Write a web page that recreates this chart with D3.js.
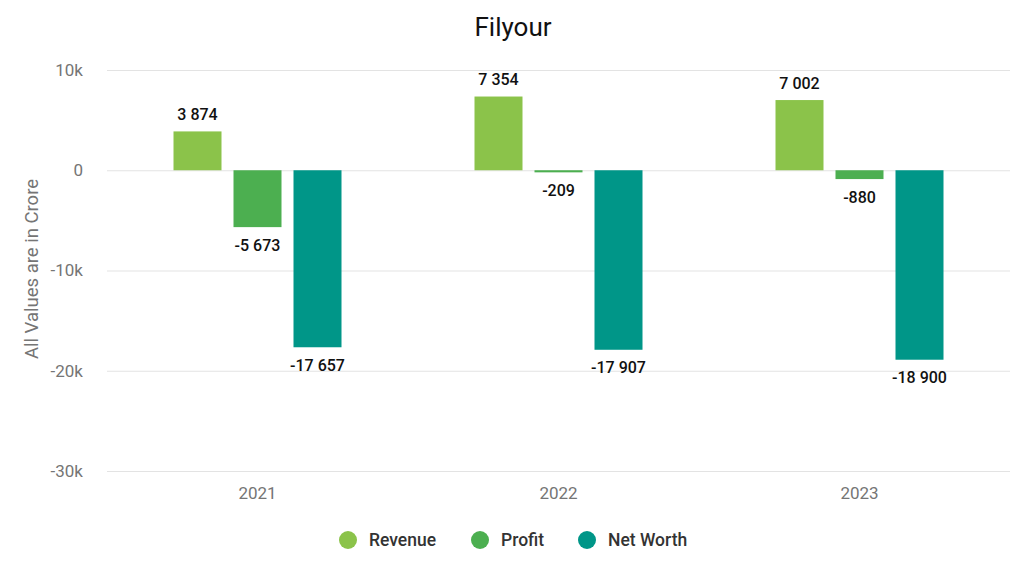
<!DOCTYPE html>
<html><head><meta charset="utf-8">
<script src="https://cdn.jsdelivr.net/npm/d3@7"></script>
<style>body{margin:0;background:#fff;font-family:Roboto,"Noto Sans",sans-serif;}</style>
</head><body>
<svg id="c" width="1024" height="582"></svg>
<script>
const categories = ["2021", "2022", "2023"];
const seriesNames = ["Revenue", "Profit", "Net Worth"];
const revenue = [3874, 7354, 7002];
const profit = [-5673, -209, -880];
const netWorth = [-17657, -17907, -18900];
const yTicks = [10000, 0, -10000, -20000, -30000];
const yTickLabels = ["10k", "0", "-10k", "-20k", "-30k"];
const colors = ["#8bc34a", "#4caf50", "#009688"];

const seriesValues = [revenue, profit, netWorth];
const svg = d3.select("#c");
const x = d3.scaleBand().domain(categories).range([107, 1010]).paddingInner(0).paddingOuter(0);
const y = d3.scaleLinear().domain([-30000, 10000]).range([471, 70]);
const barW = 48, gap = 12;
const xs = d3.scaleBand().domain(seriesNames).range([0, barW*3 + gap*2]).paddingInner(gap/(barW+gap)).paddingOuter(0);
const groupW = barW*3 + gap*2;

// grid
svg.append("g").selectAll("line").data(yTicks).join("line")
  .attr("x1", 107).attr("x2", 1010)
  .attr("y1", d => y(d)+0.5).attr("y2", d => y(d)+0.5)
  .attr("stroke", "#e3e3e3").attr("stroke-width", 1);

// y tick labels
svg.append("g").selectAll("text").data(yTicks).join("text")
  .attr("x", 83).attr("y", d => y(d)).attr("dy", "0.35em")
  .attr("text-anchor", "end").attr("fill", "#757575").attr("font-size", 17)
  .text((d, i) => yTickLabels[i]);

// y axis title
svg.append("text").attr("transform", "translate(32,269) rotate(-90)")
  .attr("text-anchor", "middle").attr("dy", "0.35em").attr("fill", "#757575").attr("font-size", 18.5)
  .text("All Values are in Crore");

// x labels
svg.append("g").selectAll("text").data(categories).join("text")
  .attr("x", d => x(d) + x.bandwidth()/2).attr("y", 493).attr("dy", "0.35em")
  .attr("text-anchor", "middle").attr("fill", "#757575").attr("font-size", 17)
  .text(d => d);

// title
svg.append("text").attr("x", 513).attr("y", 27).attr("dy", "0.35em")
  .attr("text-anchor", "middle").attr("fill", "#111").attr("font-size", 26)
  .text("Filyour");

// bars
const data = [];
categories.forEach((c, ci) => seriesNames.forEach((s, si) => data.push({c, s, si, v: seriesValues[si][ci]})));
const g = svg.append("g");
g.selectAll("rect").data(data).join("rect")
  .attr("x", d => x(d.c) + (x.bandwidth()-groupW)/2 + xs(d.s))
  .attr("width", xs.bandwidth())
  .attr("y", d => Math.min(y(d.v), y(0)))
  .attr("height", d => Math.abs(y(d.v) - y(0)))
  .attr("fill", d => colors[d.si]);

const fmt = v => (v < 0 ? "-" : "") + d3.format(",")(Math.abs(v)).replace(/,/g, " ");
g.selectAll("text").data(data).join("text")
  .attr("x", d => x(d.c) + (x.bandwidth()-groupW)/2 + xs(d.s) + xs.bandwidth()/2)
  .attr("y", d => d.v >= 0 ? y(d.v) - 17 : y(d.v) + 18)
  .attr("dy", "0.35em").attr("text-anchor", "middle")
  .attr("fill", "#111").attr("font-size", 16).attr("font-weight", 500)
  .text(d => fmt(d.v));

// legend
const legX = [348, 480, 587];
const lg = svg.append("g");
seriesNames.forEach((s, i) => {
  lg.append("circle").attr("cx", legX[i]).attr("cy", 540).attr("r", 9).attr("fill", colors[i]);
  lg.append("text").attr("x", legX[i] + 21).attr("y", 540).attr("dy", "0.35em")
    .attr("fill", "#333").attr("font-size", 17.5).attr("font-weight", 500).text(s);
});
</script>
</body></html>
